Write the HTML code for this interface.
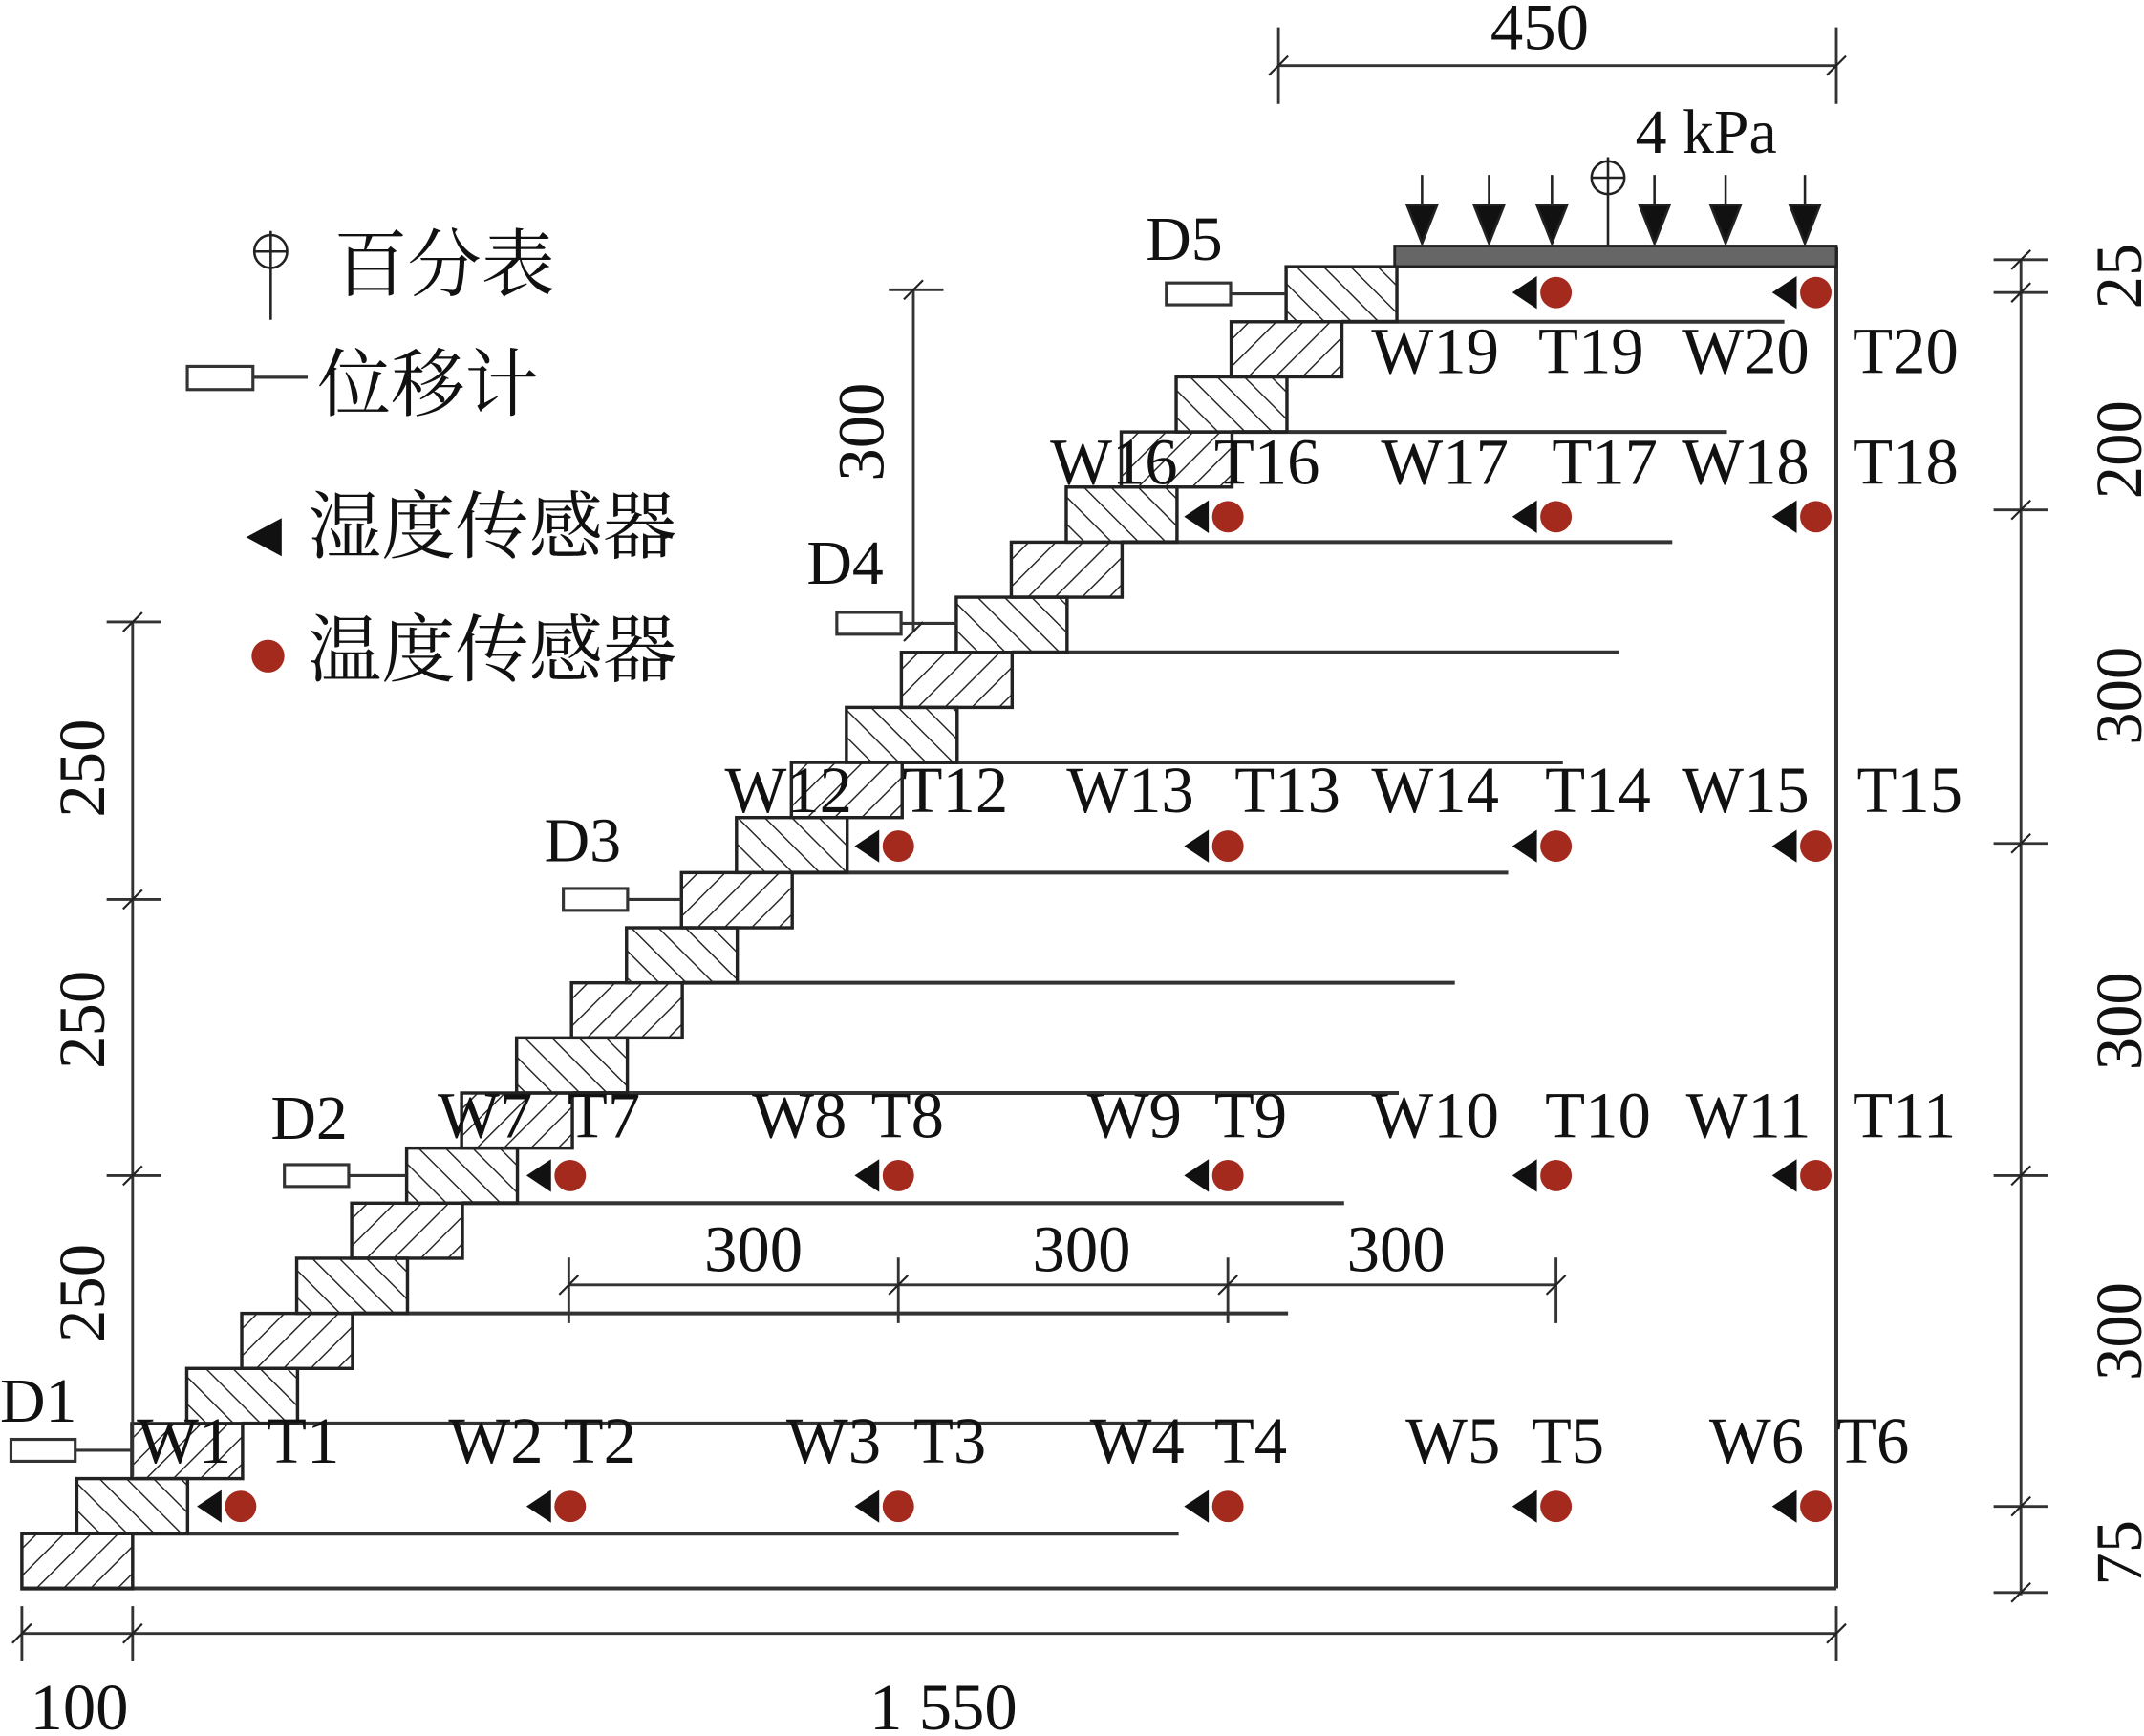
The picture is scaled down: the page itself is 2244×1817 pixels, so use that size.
<!DOCTYPE html>
<html><head><meta charset="utf-8"><style>
html,body{margin:0;padding:0;background:#fff}
svg{display:block}
text{font-family:"Liberation Serif","Noto Serif CJK SC",serif;fill:#111}
</style></head><body>
<svg width="2244" height="1817" viewBox="0 0 1568 1270" preserveAspectRatio="none" xmlns="http://www.w3.org/2000/svg">
<defs>
<pattern id="hf" width="14" height="14" patternUnits="userSpaceOnUse" patternTransform="rotate(45)">
<line x1="0" y1="0" x2="0" y2="14" stroke="#222" stroke-width="2"/></pattern>
<pattern id="hb" width="14" height="14" patternUnits="userSpaceOnUse" patternTransform="rotate(-45)">
<line x1="0" y1="0" x2="0" y2="14" stroke="#222" stroke-width="2"/></pattern>
<g id="sen"><polygon points="-32,0 -14,-12 -14,12" fill="#111"/><circle cx="0" cy="0" r="11.5" fill="#a42a1e"/></g>
<g id="tk"><line x1="-7" y1="7" x2="7" y2="-7" stroke="#222" stroke-width="1.5"/></g>
</defs>

<g stroke="#333" stroke-width="2.8">
<line x1="97" y1="1122" x2="862" y2="1122"/>
<line x1="177" y1="1041.4" x2="902" y2="1041.4"/>
<line x1="258" y1="960.8" x2="942" y2="960.8"/>
<line x1="338" y1="880.2" x2="983" y2="880.2"/>
<line x1="419" y1="799.6" x2="1023" y2="799.6"/>
<line x1="499" y1="719" x2="1064" y2="719"/>
<line x1="579" y1="638.4" x2="1103" y2="638.4"/>
<line x1="660" y1="557.8" x2="1143" y2="557.8"/>
<line x1="740" y1="477.2" x2="1184" y2="477.2"/>
<line x1="820" y1="396.6" x2="1223" y2="396.6"/>
<line x1="901" y1="316" x2="1263" y2="316"/>
<line x1="981" y1="235.4" x2="1305" y2="235.4"/>
<line x1="16" y1="1162" x2="1343" y2="1162"/>
<line x1="1343" y1="181" x2="1343" y2="1162"/>
</g>
<rect x="1020" y="180" width="323" height="15" fill="#666" stroke="#222" stroke-width="2"/>

<g stroke="#222" stroke-width="2.4">
<rect x="16" y="1122" width="81" height="40.3" fill="url(#hf)"/>
<rect x="56.2" y="1081.7" width="81" height="40.3" fill="url(#hb)"/>
<rect x="96.4" y="1041.4" width="81" height="40.3" fill="url(#hf)"/>
<rect x="136.6" y="1001.1" width="81" height="40.3" fill="url(#hb)"/>
<rect x="176.8" y="960.8" width="81" height="40.3" fill="url(#hf)"/>
<rect x="217" y="920.5" width="81" height="40.3" fill="url(#hb)"/>
<rect x="257.2" y="880.2" width="81" height="40.3" fill="url(#hf)"/>
<rect x="297.4" y="839.9" width="81" height="40.3" fill="url(#hb)"/>
<rect x="337.6" y="799.6" width="81" height="40.3" fill="url(#hf)"/>
<rect x="377.8" y="759.3" width="81" height="40.3" fill="url(#hb)"/>
<rect x="418" y="719" width="81" height="40.3" fill="url(#hf)"/>
<rect x="458.2" y="678.7" width="81" height="40.3" fill="url(#hb)"/>
<rect x="498.4" y="638.4" width="81" height="40.3" fill="url(#hf)"/>
<rect x="538.6" y="598.1" width="81" height="40.3" fill="url(#hb)"/>
<rect x="578.8" y="557.8" width="81" height="40.3" fill="url(#hf)"/>
<rect x="619" y="517.5" width="81" height="40.3" fill="url(#hb)"/>
<rect x="659.2" y="477.2" width="81" height="40.3" fill="url(#hf)"/>
<rect x="699.4" y="436.9" width="81" height="40.3" fill="url(#hb)"/>
<rect x="739.6" y="396.6" width="81" height="40.3" fill="url(#hf)"/>
<rect x="779.8" y="356.3" width="81" height="40.3" fill="url(#hb)"/>
<rect x="820" y="316" width="81" height="40.3" fill="url(#hf)"/>
<rect x="860.2" y="275.7" width="81" height="40.3" fill="url(#hb)"/>
<rect x="900.4" y="235.4" width="81" height="40.3" fill="url(#hf)"/>
<rect x="940.6" y="195.1" width="81" height="40.3" fill="url(#hb)"/>
</g>

<use href="#sen" x="176" y="1102"/><use href="#sen" x="417" y="1102"/><use href="#sen" x="657" y="1102"/><use href="#sen" x="898" y="1102"/><use href="#sen" x="1138" y="1102"/><use href="#sen" x="1328" y="1102"/>
<use href="#sen" x="417" y="860"/><use href="#sen" x="657" y="860"/><use href="#sen" x="898" y="860"/><use href="#sen" x="1138" y="860"/><use href="#sen" x="1328" y="860"/>
<use href="#sen" x="657" y="619"/><use href="#sen" x="898" y="619"/><use href="#sen" x="1138" y="619"/><use href="#sen" x="1328" y="619"/>
<use href="#sen" x="898" y="378"/><use href="#sen" x="1138" y="378"/><use href="#sen" x="1328" y="378"/>
<use href="#sen" x="1138" y="214"/><use href="#sen" x="1328" y="214"/>

<g stroke="#222" stroke-width="1.8" fill="#111">
<line x1="1040" y1="128" x2="1040" y2="160"/><polygon points="1029,150 1051,150 1040,178"/>
<line x1="1089" y1="128" x2="1089" y2="160"/><polygon points="1078,150 1100,150 1089,178"/>
<line x1="1135" y1="128" x2="1135" y2="160"/><polygon points="1124,150 1146,150 1135,178"/>
<line x1="1210" y1="128" x2="1210" y2="160"/><polygon points="1199,150 1221,150 1210,178"/>
<line x1="1262" y1="128" x2="1262" y2="160"/><polygon points="1251,150 1273,150 1262,178"/>
<line x1="1320" y1="128" x2="1320" y2="160"/><polygon points="1309,150 1331,150 1320,178"/>
</g>
<g stroke="#222" stroke-width="1.8" fill="none">
<circle cx="1176" cy="130" r="12"/><line x1="1164" y1="130" x2="1188" y2="130"/><line x1="1176" y1="115" x2="1176" y2="180"/>
<circle cx="198" cy="184" r="12"/><line x1="186" y1="184" x2="210" y2="184"/><line x1="198" y1="169" x2="198" y2="234"/>
</g>
<text x="1196" y="112" font-size="46">4 kPa</text>

<g stroke="#333" stroke-width="2.2" fill="#fff">
<rect x="8" y="1053" width="47" height="16"/><line x1="55" y1="1061" x2="97" y2="1061"/>
<rect x="208" y="852" width="47" height="16"/><line x1="255" y1="860" x2="297" y2="860"/>
<rect x="412" y="650" width="47" height="16"/><line x1="459" y1="658" x2="498" y2="658"/>
<rect x="612" y="448" width="47" height="16"/><line x1="659" y1="456" x2="700" y2="456"/>
<rect x="853" y="207" width="47" height="16"/><line x1="900" y1="215" x2="940" y2="215"/>
<rect x="137" y="268" width="48" height="17"/><line x1="185" y1="276" x2="225" y2="276"/>
</g>
<g font-size="46">
<text x="0" y="1040">D1</text><text x="198" y="833">D2</text><text x="398" y="630">D3</text><text x="590" y="427">D4</text><text x="838" y="190">D5</text>
</g>

<polygon points="180,393 206,379 206,407" fill="#111"/>
<circle cx="196" cy="480" r="12" fill="#a42a1e"/>
<g font-size="54">
<text x="244" y="212">百分表</text>
<text x="232" y="300">位移计</text>
<text x="225" y="404">湿度传感器</text>
<text x="225" y="494">温度传感器</text>
</g>

<g font-size="48">
<text x="100" y="1070">W1</text><text x="195" y="1070">T1</text>
<text x="328" y="1070">W2</text><text x="412" y="1070">T2</text>
<text x="575" y="1070">W3</text><text x="668" y="1070">T3</text>
<text x="797" y="1070">W4</text><text x="888" y="1070">T4</text>
<text x="1028" y="1070">W5</text><text x="1120" y="1070">T5</text>
<text x="1250" y="1070">W6</text><text x="1343" y="1070">T6</text>
<text x="320" y="832">W7</text><text x="415" y="832">T7</text>
<text x="550" y="832">W8</text><text x="637" y="832">T8</text>
<text x="795" y="832">W9</text><text x="888" y="832">T9</text>
<text x="1003" y="832">W10</text><text x="1130" y="832">T10</text>
<text x="1233" y="832">W11</text><text x="1355" y="832">T11</text>
<text x="530" y="594">W12</text><text x="660" y="594">T12</text>
<text x="780" y="594">W13</text><text x="903" y="594">T13</text>
<text x="1003" y="594">W14</text><text x="1130" y="594">T14</text>
<text x="1230" y="594">W15</text><text x="1358" y="594">T15</text>
<text x="768" y="354">W16</text><text x="888" y="354">T16</text>
<text x="1010" y="354">W17</text><text x="1135" y="354">T17</text>
<text x="1230" y="354">W18</text><text x="1355" y="354">T18</text>
<text x="1003" y="273">W19</text><text x="1125" y="273">T19</text>
<text x="1230" y="273">W20</text><text x="1355" y="273">T20</text>
</g>

<g stroke="#333" stroke-width="2">
<line x1="935" y1="48" x2="1343" y2="48"/><line x1="935" y1="20" x2="935" y2="76"/><line x1="1343" y1="20" x2="1343" y2="76"/>
<line x1="668" y1="212" x2="668" y2="462"/><line x1="650" y1="212" x2="690" y2="212"/>
<line x1="97" y1="455" x2="97" y2="1080"/>
<line x1="78" y1="455" x2="118" y2="455"/><line x1="78" y1="658" x2="118" y2="658"/><line x1="78" y1="860" x2="118" y2="860"/>
<line x1="1478" y1="190" x2="1478" y2="1167"/>
<line x1="1458" y1="190" x2="1498" y2="190"/><line x1="1458" y1="214" x2="1498" y2="214"/><line x1="1458" y1="373" x2="1498" y2="373"/><line x1="1458" y1="617" x2="1498" y2="617"/><line x1="1458" y1="860" x2="1498" y2="860"/><line x1="1458" y1="1102" x2="1498" y2="1102"/><line x1="1458" y1="1165" x2="1498" y2="1165"/>
<line x1="16" y1="1195" x2="1343" y2="1195"/><line x1="16" y1="1175" x2="16" y2="1215"/><line x1="97" y1="1175" x2="97" y2="1215"/><line x1="1343" y1="1175" x2="1343" y2="1215"/>
<line x1="416" y1="940" x2="1138" y2="940"/><line x1="416" y1="920" x2="416" y2="968"/><line x1="657" y1="920" x2="657" y2="968"/><line x1="898" y1="920" x2="898" y2="968"/><line x1="1138" y1="920" x2="1138" y2="968"/>
</g>
<g>
<use href="#tk" x="935" y="48"/><use href="#tk" x="1343" y="48"/><use href="#tk" x="668" y="212"/><use href="#tk" x="668" y="462"/>
<use href="#tk" x="97" y="455"/><use href="#tk" x="97" y="658"/><use href="#tk" x="97" y="860"/>
<use href="#tk" x="1478" y="190"/><use href="#tk" x="1478" y="214"/><use href="#tk" x="1478" y="373"/><use href="#tk" x="1478" y="617"/><use href="#tk" x="1478" y="860"/><use href="#tk" x="1478" y="1102"/><use href="#tk" x="1478" y="1165"/>
<use href="#tk" x="16" y="1195"/><use href="#tk" x="97" y="1195"/><use href="#tk" x="1343" y="1195"/>
<use href="#tk" x="416" y="940"/><use href="#tk" x="657" y="940"/><use href="#tk" x="898" y="940"/><use href="#tk" x="1138" y="940"/>
</g>
<g font-size="48">
<text x="1090" y="36">450</text>
<text x="515" y="930">300</text><text x="755" y="930">300</text><text x="985" y="930">300</text>
<text x="22" y="1265">100</text><text x="636" y="1265">1 550</text>
<text transform="translate(646,352) rotate(-90)">300</text>
<text transform="translate(76,598) rotate(-90)">250</text>
<text transform="translate(76,782) rotate(-90)">250</text>
<text transform="translate(76,982) rotate(-90)">250</text>
<text transform="translate(1566,226) rotate(-90)">25</text>
<text transform="translate(1566,365) rotate(-90)">200</text>
<text transform="translate(1566,545) rotate(-90)">300</text>
<text transform="translate(1566,783) rotate(-90)">300</text>
<text transform="translate(1566,1010) rotate(-90)">300</text>
<text transform="translate(1566,1160) rotate(-90)">75</text>
</g>
</svg>
</body></html>
